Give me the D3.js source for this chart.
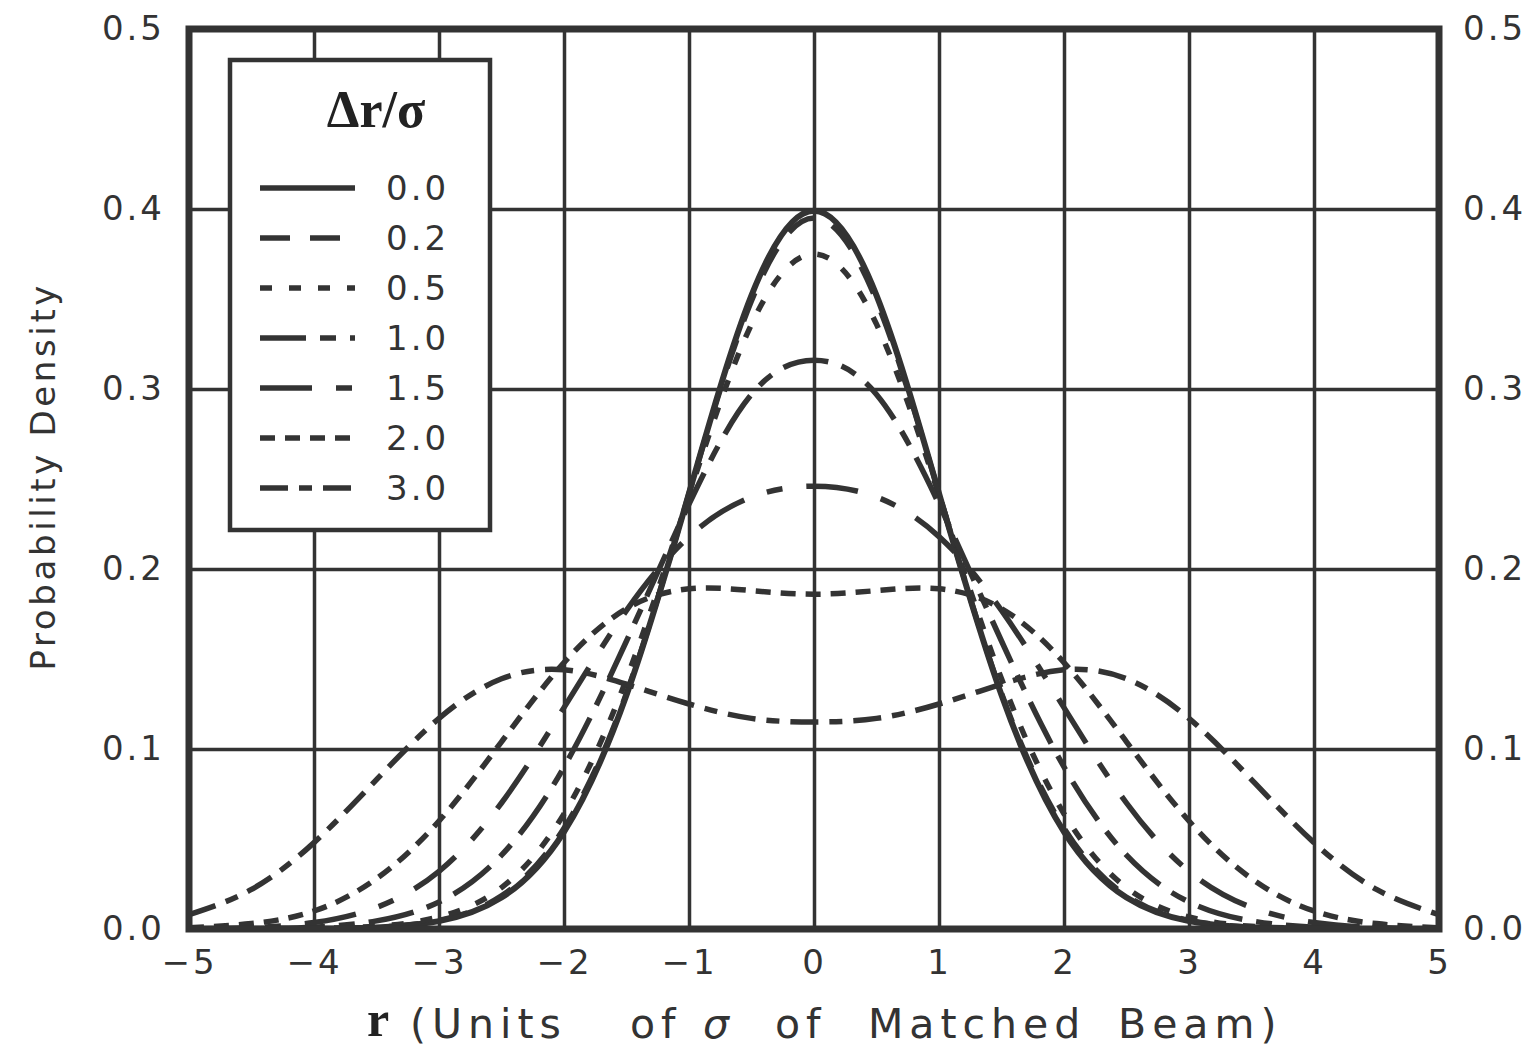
<!DOCTYPE html>
<meta charset="utf-8">
<style>
  body { margin: 0; background: #fff; }
  svg { font-family: "DejaVu Sans", "Open Sans", sans-serif; }
  .lbl text { fill: #333; font-size: 34px; letter-spacing: 3px; }
</style>

<svg id="chart" width="1540" height="1048"></svg>

<script src="https://d3js.org/d3.v7.min.js"></script>
<script>
// r in units of sigma
var rVals = [-5, -4.5, -4, -3.5, -3, -2.5, -2, -1.5, -1, -0.5, 0, 0.5, 1, 1.5, 2, 2.5, 3, 3.5, 4, 4.5, 5]

// probability density for each delta r / sigma
var dr00 = [0, 0, 0.0001, 0.0009, 0.0044, 0.0175, 0.054, 0.130, 0.242, 0.352, 0.399, 0.352, 0.242, 0.130, 0.054, 0.0175, 0.0044, 0.0009, 0.0001, 0, 0]
var dr02 = [0, 0, 0.0001, 0.0010, 0.0048, 0.0184, 0.056, 0.131, 0.242, 0.349, 0.395, 0.349, 0.242, 0.131, 0.056, 0.0184, 0.0048, 0.0010, 0.0001, 0, 0]
var dr05 = [0, 0, 0.0003, 0.0015, 0.0067, 0.023, 0.064, 0.139, 0.241, 0.336, 0.375, 0.336, 0.241, 0.139, 0.064, 0.023, 0.0067, 0.0015, 0.0003, 0, 0]
var dr10 = [0, 0.0002, 0.0010, 0.0045, 0.015, 0.041, 0.090, 0.160, 0.236, 0.297, 0.316, 0.297, 0.236, 0.160, 0.090, 0.041, 0.015, 0.0045, 0.0010, 0.0002, 0]
var dr15 = [0.0002, 0.0008, 0.0036, 0.012, 0.032, 0.070, 0.123, 0.177, 0.218, 0.240, 0.246, 0.240, 0.218, 0.177, 0.123, 0.070, 0.032, 0.012, 0.0036, 0.0008, 0.0002]
var dr20 = [0.0007, 0.003, 0.010, 0.028, 0.060, 0.104, 0.148, 0.178, 0.189, 0.188, 0.186, 0.188, 0.189, 0.178, 0.148, 0.104, 0.060, 0.028, 0.010, 0.003, 0.0007]
var dr30 = [0.008, 0.022, 0.048, 0.083, 0.117, 0.139, 0.144, 0.136, 0.125, 0.117, 0.115, 0.117, 0.125, 0.136, 0.144, 0.139, 0.117, 0.083, 0.048, 0.022, 0.008]

var seriesNames = ["0.0", "0.2", "0.5", "1.0", "1.5", "2.0", "3.0"]
var seriesData = [dr00, dr02, dr05, dr10, dr15, dr20, dr30]

var xTicks = [-5, -4, -3, -2, -1, 0, 1, 2, 3, 4, 5]
var yTicks = [0, 0.1, 0.2, 0.3, 0.4, 0.5]

// line styles
var dashes = [null, "30,20", "12,17", "46,14,16,14", "52,24,16,24", "15,10", "28,11,13,11"]
var ink = "#333"

var svg = d3.select("#chart")

var x = d3.scaleLinear().domain([-5, 5]).range([189, 1439])
var y = d3.scaleLinear().domain([0, 0.5]).range([929, 29])
var plotW = x(5) - x(-5),
    plotH = y(0) - y(0.5)

svg.append("rect").attr("width", 1540).attr("height", 1048).attr("fill", "#fff")

// grid
svg.append("g")
  .attr("transform", "translate(0," + y(0) + ")")
  .call(d3.axisBottom(x).tickValues(xTicks).tickSize(-plotH).tickFormat(""))
  .call(g => g.select(".domain").remove())
  .selectAll("line").attr("stroke", ink).attr("stroke-width", 3.5)

svg.append("g")
  .attr("transform", "translate(" + x(-5) + ",0)")
  .call(d3.axisLeft(y).tickValues(yTicks).tickSize(-plotW).tickFormat(""))
  .call(g => g.select(".domain").remove())
  .selectAll("line").attr("stroke", ink).attr("stroke-width", 3.5)

// tick labels
svg.append("g").attr("class", "lbl")
  .attr("transform", "translate(0," + y(0) + ")")
  .call(d3.axisBottom(x).tickValues(xTicks).tickSize(0).tickPadding(21).tickFormat(d3.format("d")))
  .call(g => g.select(".domain").remove())
  .attr("font-family", null).attr("font-size", null)

svg.append("g").attr("class", "lbl")
  .attr("transform", "translate(" + x(-5) + ",0)")
  .call(d3.axisLeft(y).tickValues(yTicks).tickSize(0).tickPadding(24).tickFormat(d3.format(".1f")))
  .call(g => g.select(".domain").remove())
  .attr("font-family", null).attr("font-size", null)

svg.append("g").attr("class", "lbl")
  .attr("transform", "translate(" + x(5) + ",0)")
  .call(d3.axisRight(y).tickValues(yTicks).tickSize(0).tickPadding(24).tickFormat(d3.format(".1f")))
  .call(g => g.select(".domain").remove())
  .attr("font-family", null).attr("font-size", null)

// curves
svg.append("clipPath").attr("id", "plotClip")
  .append("rect").attr("x", x(-5)).attr("y", y(0.5)).attr("width", plotW).attr("height", plotH)

var line = d3.line()
  .x((d, i) => x(rVals[i]))
  .y(d => y(d))
  .curve(d3.curveNatural)

svg.append("g").attr("clip-path", "url(#plotClip)")
  .selectAll("path")
  .data(seriesData)
  .join("path")
  .attr("d", line)
  .attr("fill", "none")
  .attr("stroke", ink)
  .attr("stroke-width", (d, i) => i == 0 ? 6 : 5.5)
  .attr("stroke-dasharray", (d, i) => dashes[i])

// legend
var legend = svg.append("g")
legend.append("rect")
  .attr("x", 230).attr("y", 60).attr("width", 260).attr("height", 470)
  .attr("fill", "#fff").attr("stroke", ink).attr("stroke-width", 4.5)

legend.append("text")
  .attr("x", 376).attr("y", 127)
  .attr("text-anchor", "middle")
  .attr("font-family", "'Liberation Serif', 'DejaVu Serif', serif")
  .attr("font-weight", "bold")
  .attr("font-size", 52)
  .attr("fill", "#222")
  .text("Δr/σ")

var rows = legend.selectAll("g.row")
  .data(seriesNames)
  .join("g")
  .attr("class", "row")
  .attr("transform", (d, i) => "translate(0," + (188 + i * 50) + ")")

rows.append("line")
  .attr("x1", 260).attr("x2", 355)
  .attr("stroke", ink).attr("stroke-width", 5.5)
  .attr("stroke-dasharray", (d, i) => dashes[i])

rows.append("text")
  .attr("x", 386).attr("dy", "0.36em")
  .attr("font-size", 34).attr("letter-spacing", 3)
  .attr("fill", ink)
  .text(d => d)

// frame
svg.append("rect")
  .attr("x", x(-5)).attr("y", y(0.5)).attr("width", plotW).attr("height", plotH)
  .attr("fill", "none").attr("stroke", ink).attr("stroke-width", 7)

// axis titles
svg.append("text")
  .attr("x", 367).attr("y", 1036)
  .attr("font-family", "'Liberation Serif', 'DejaVu Serif', serif")
  .attr("font-weight", "bold").attr("font-size", 50)
  .attr("fill", "#222")
  .text("r")

var titleWords = [["(Units", 410], ["of", 630], ["σ", 703], ["of", 775], ["Matched", 868], ["Beam)", 1118]]
svg.append("text")
  .attr("y", 1038)
  .attr("font-size", 41)
  .attr("letter-spacing", 6)
  .attr("fill", ink)
  .selectAll("tspan")
  .data(titleWords)
  .join("tspan")
  .attr("x", d => d[1])
  .attr("font-style", d => d[0] == "σ" ? "italic" : null)
  .text(d => d[0])

svg.append("text")
  .attr("transform", "translate(55,478) rotate(-90)")
  .attr("text-anchor", "middle")
  .attr("font-size", 34)
  .attr("textLength", 385).attr("lengthAdjust", "spacing")
  .attr("fill", ink)
  .text("Probability Density")
</script>
